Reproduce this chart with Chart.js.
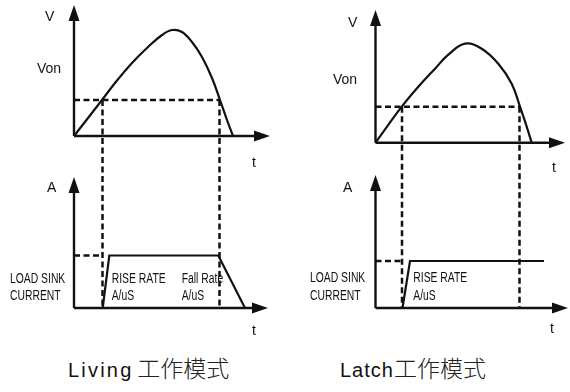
<!DOCTYPE html>
<html>
<head>
<meta charset="utf-8">
<script src="https://cdn.jsdelivr.net/npm/chart.js@4/dist/chart.umd.min.js"></script>
<style>
  html, body { margin: 0; padding: 0; background: #fff; }
  #wrap { position: relative; width: 570px; height: 392px; overflow: hidden; }
  canvas { position: absolute; top: 0; }
  #cvLiving { left: 0; }
  #cvLatch { left: 285px; }
  .cap { position: absolute; top: 355px; line-height: 24px; font-family: "Liberation Sans", Arial, sans-serif;
         font-size: 20px; color: #111; white-space: nowrap; }
  .cap .cn { font-family: "Noto Sans CJK SC", sans-serif; font-weight: 300; font-size: 23px; color: #222; }
  #capLiving { left: 68px; letter-spacing: 2.2px; word-spacing: -4px; }
  #capLatch { left: 340px; letter-spacing: 1px; }
  #capLatch .cn, #capLiving .cn { letter-spacing: 0; }
</style>
</head>
<body>
<div id="wrap">
  <canvas id="cvLiving" width="285" height="340"></canvas>
  <canvas id="cvLatch" width="285" height="340"></canvas>
  <div class="cap" id="capLiving">Living <span class="cn">工作模式</span></div>
  <div class="cap" id="capLatch">Latch<span class="cn">工作模式</span></div>
</div>
<script>
// Living 模式 — 电压曲线 (t, V) 与负载电流 (t, A)
const livingT = [0, 2.8, 4.1, 5.8, 7.4, 8.8, 9.8, 10.8, 11.8, 12.8, 13.8, 14.6, 15.3, 15.9];
const livingV = [0, 3.6, 5.3, 7.3, 8.9, 10.1, 10.6, 10.4, 9.4, 7.9, 5.8, 3.6, 1.6, 0];
const livingVon = 3.6;
const livingCross = [2.85, 14.55];
const livingLoadT = [2.87, 3.53, 14.43, 17.1];
const livingLoadA = [0, 5.25, 5.25, 0];
const livingSink = 5.25;
const livingTips = [13.1, 19.6, 13.1, 19.4];   // V 轴, t 轴(上), A 轴, t 轴(下)

// Latch 模式
const latchT = [0, 2.62, 4.28, 5.95, 7.28, 8.95, 10.62, 12.28, 13.62, 14.45, 15.12, 15.62];
const latchV = [0, 3.6, 5.6, 7.4, 8.8, 9.9, 9.4, 7.9, 5.9, 3.6, 1.6, 0];
const latchVon = 3.6;
const latchCross = [2.65, 14.4];
const latchLoadT = [2.7, 3.45, 16.85];
const latchLoadA = [0, 4.7, 4.7];
const latchSink = 4.7;
const latchTips = [13.27, 18.95, 13.3, 19.25];

// 文字标注 (text, t, 值, 轴, 窄体)
const livingNotes = [
  ['V', -2.9, 11.5, 'yV'], ['Von', -3.7, 6.3, 'yV'], ['t', 17.8, -3.05, 'yV'],
  ['A', -2.7, 11.6, 'yA'], ['t', 17.8, -2.7, 'yA'],
  ['LOAD SINK', -6.4, 2.5, 'yA', true], ['CURRENT', -6.4, 0.8, 'yA', true],
  ['RISE RATE', 3.77, 2.5, 'yA', true], ['A/uS', 3.77, 0.8, 'yA', true],
  ['Fall Rate', 10.77, 2.5, 'yA', true], ['A/uS', 10.77, 0.8, 'yA', true]
];
const latchNotes = [
  ['V', -2.75, 11.6, 'yV'], ['Von', -4.25, 5.9, 'yV'], ['t', 17.65, -2.9, 'yV'],
  ['A', -3.25, 11.6, 'yA'], ['t', 17.45, -2.5, 'yA'],
  ['LOAD SINK', -6.55, 2.6, 'yA', true], ['CURRENT', -6.55, 0.8, 'yA', true],
  ['RISE RATE', 3.78, 2.6, 'yA', true], ['A/uS', 3.78, 0.8, 'yA', true]
];

const INK = '#111';
const DASH = [6, 3.5];

function pts(xs, ys) { return xs.map((x, i) => ({ x, y: ys[i] })); }

function arrow(ctx, x0, y0, x1, y1) {
  const ang = Math.atan2(y1 - y0, x1 - x0);
  const len = 16, half = 5.5;
  ctx.beginPath();
  ctx.moveTo(x0, y0);
  ctx.lineTo(x1 - Math.cos(ang) * (len - 2), y1 - Math.sin(ang) * (len - 2));
  ctx.stroke();
  ctx.beginPath();
  ctx.moveTo(x1, y1);
  ctx.lineTo(x1 - Math.cos(ang) * len - Math.sin(ang) * half, y1 - Math.sin(ang) * len + Math.cos(ang) * half);
  ctx.lineTo(x1 - Math.cos(ang) * len + Math.sin(ang) * half, y1 - Math.sin(ang) * len - Math.cos(ang) * half);
  ctx.closePath();
  ctx.fill();
}

const sketch = {
  id: 'sketch',
  afterDatasetsDraw(chart, args, opts) {
    const { ctx } = chart;
    const x = chart.scales.x, yV = chart.scales.yV, yA = chart.scales.yA;
    ctx.save();
    ctx.strokeStyle = INK;
    ctx.fillStyle = INK;

    // 虚线: Von 交点向下到电流坐标
    ctx.lineWidth = 2.5;
    ctx.setLineDash(DASH);
    opts.cross.forEach(t => {
      ctx.beginPath();
      ctx.moveTo(x.getPixelForValue(t), yV.getPixelForValue(opts.von));
      ctx.lineTo(x.getPixelForValue(t), yA.getPixelForValue(0));
      ctx.stroke();
    });
    ctx.setLineDash([]);

    // 坐标轴 + 箭头
    ctx.lineWidth = 2.4;
    const [vTip, tTopTip, aTip, tBotTip] = opts.tips;
    const ox = x.getPixelForValue(0);
    arrow(ctx, ox, yV.getPixelForValue(0), ox, yV.getPixelForValue(vTip));
    arrow(ctx, ox, yV.getPixelForValue(0), x.getPixelForValue(tTopTip), yV.getPixelForValue(0));
    arrow(ctx, ox, yA.getPixelForValue(0), ox, yA.getPixelForValue(aTip));
    arrow(ctx, ox, yA.getPixelForValue(0), x.getPixelForValue(tBotTip), yA.getPixelForValue(0));

    // 文字
    ctx.textBaseline = 'alphabetic';
    ctx.textAlign = 'left';
    ctx.font = '14px "Liberation Sans", Arial, sans-serif';
    opts.notes.forEach(([text, t, v, axis, narrow]) => {
      const px = x.getPixelForValue(t), py = chart.scales[axis].getPixelForValue(v);
      ctx.save();
      ctx.translate(px, py);
      if (narrow) ctx.scale(0.74, 1);
      ctx.fillText(text, 0, 0);
      ctx.restore();
    });
    ctx.restore();
  }
};

function makePanel(id, cfg) {
  const line = { borderColor: INK, pointRadius: 0, fill: false, borderCapStyle: 'butt' };
  return new Chart(document.getElementById(id), {
    type: 'line',
    data: {
      datasets: [
        { ...line, data: pts(cfg.t, cfg.v), yAxisID: 'yV', borderWidth: 2.2, tension: 0.4 },
        { ...line, data: pts([0, cfg.cross[1]], [cfg.von, cfg.von]), yAxisID: 'yV', borderWidth: 2.5, borderDash: DASH },
        { ...line, data: pts(cfg.loadT, cfg.loadA), yAxisID: 'yA', borderWidth: 2.2, tension: 0 },
        { ...line, data: pts([0, cfg.cross[0]], [cfg.sink, cfg.sink]), yAxisID: 'yA', borderWidth: 2.5, borderDash: DASH }
      ]
    },
    options: {
      responsive: false,
      animation: false,
      devicePixelRatio: 1,
      events: [],
      layout: { padding: 0 },
      plugins: {
        legend: { display: false },
        tooltip: { enabled: false },
        sketch: { cross: cfg.cross, von: cfg.von, tips: cfg.tips, notes: cfg.notes }
      },
      scales: {
        x: { type: 'linear', min: cfg.xr[0], max: cfg.xr[1], display: false },
        yV: { type: 'linear', min: cfg.vr[0], max: cfg.vr[1], display: false },
        yA: { type: 'linear', min: -3.2, max: 30.8, display: false }
      }
    },
    plugins: [sketch]
  });
}

makePanel('cvLiving', {
  t: livingT, v: livingV, von: livingVon, cross: livingCross,
  loadT: livingLoadT, loadA: livingLoadA, sink: livingSink, tips: livingTips, notes: livingNotes,
  xr: [-7.4, 21.1], vr: [-20.4, 13.6]
});
makePanel('cvLatch', {
  t: latchT, v: latchV, von: latchVon, cross: latchCross,
  loadT: latchLoadT, loadA: latchLoadA, sink: latchSink, tips: latchTips, notes: latchNotes,
  xr: [-9.05, 19.45], vr: [-19.73, 14.27]
});
</script>
</body>
</html>
